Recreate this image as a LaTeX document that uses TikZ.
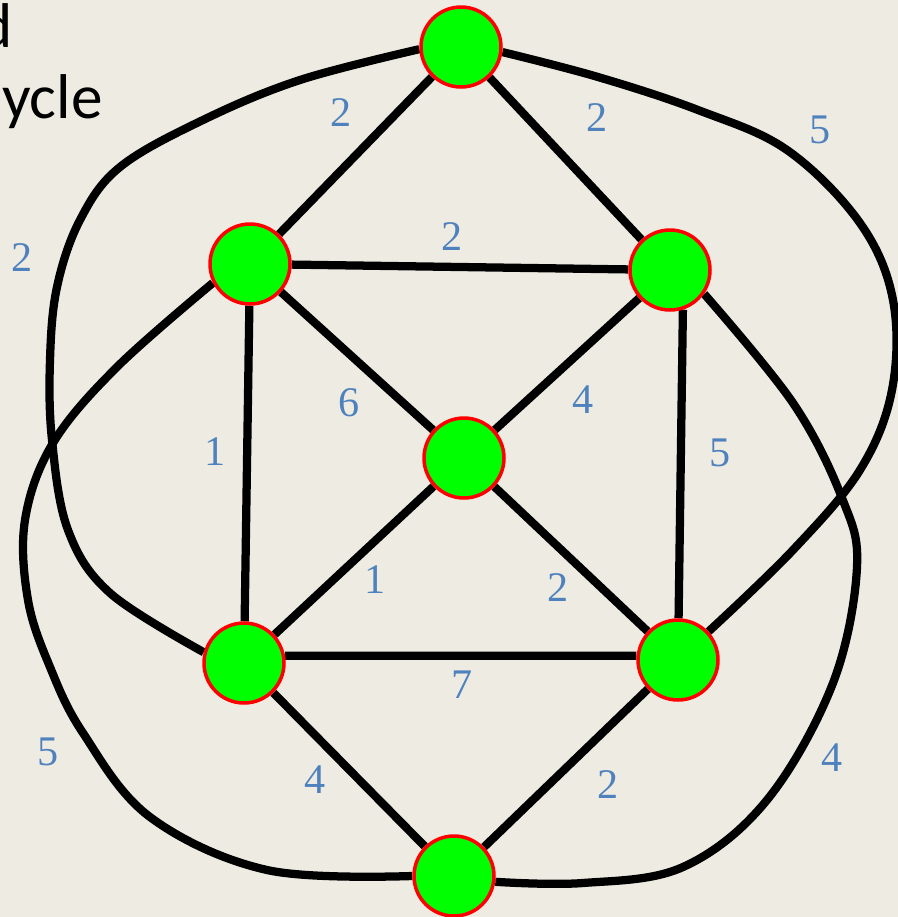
\documentclass[tikz,border=0pt]{standalone}
\usepackage{fontspec}
\setmainfont{Liberation Serif}
\newfontfamily\calibri{Carlito}
\definecolor{bgc}{RGB}{238,236,226}
\definecolor{lab}{RGB}{79,129,189}
\definecolor{vgreen}{RGB}{0,255,0}
\pgfdeclarelayer{background}
\pgfsetlayers{background,main}
\begin{document}
\begin{tikzpicture}[x=0.02cm,y=-0.02cm,
  vtx/.style={circle,fill=vgreen,draw=red,line width=2pt,minimum size=1.6cm,inner sep=0pt},
  edge/.style={line width=4.7pt,black},
  curve/.style={line width=4.7pt,black,smooth,tension=0.6},
  wt/.style={text=lab,font=\fontspec{Liberation Serif}\fontsize{24}{28}\selectfont,inner sep=0pt},
  titletext/.style={font=\calibri\fontsize{36}{42}\selectfont,inner sep=0pt,anchor=base east}]
\useasboundingbox (0,0) rectangle (898,917);

% vertices
\node[vtx] (T)  at (461,47)  {};
\node[vtx] (UL) at (250,264) {};
\node[vtx] (UR) at (670,270) {};
\node[vtx] (C)  at (464,458) {};
\node[vtx] (LL) at (244,663) {};
\node[vtx] (LR) at (678,660) {};
\node[vtx] (B)  at (454,876) {};

\begin{pgfonlayer}{background}
\fill[bgc] (0,0) rectangle (898,917);
% straight edges
\draw[edge] (T) -- (UL);
\draw[edge] (T) -- (UR);
\draw[edge] (UL) -- (UR);
\draw[edge] (UL) -- (C);
\draw[edge] (UR) -- (C);
\draw[edge] (UL) -- (LL);
\draw[edge] (UR.-72) -- (LR);
\draw[edge] (C) -- (LL);
\draw[edge] (C) -- (LR);
\draw[edge] (LL.10) -- (LR.174);
\draw[edge] (LL) -- (B);
\draw[edge] (LR) -- (B);
% outer curves
\draw[curve] plot coordinates {(T.183) (300,80) (203,120) (120,167) (80,220) (57,287) (50,360) (52,440) (68,530) (110,593) (LL.165)};
\draw[curve] plot coordinates {(T.-7) (598,77) (698,110) (787,150) (860,223) (893,300) (892,390) (860,470) (793,550) (LR.43)};
\draw[curve] plot coordinates {(UL.207) (117,367) (53,443) (25,520) (28,600) (50,667) (83,733) (150,817) (267,870) (B.180)};
\draw[curve] plot coordinates {(UR.-35) (793,403) (842,498) (857,567) (833,683) (767,800) (683,867) (583,883) (B.-8)};
\end{pgfonlayer}

% weights
\node[wt] (w1)  at (341,113) {2};
\node[wt] (w2)  at (597,118) {2};
\node[wt] (w3)  at (820,130) {5};
\node[wt] (w4)  at (22,258)  {2};
\node[wt] (w5)  at (452,237) {2};
\node[wt] (w6)  at (349,403) {6};
\node[wt] (w7)  at (583,400) {4};
\node[wt] (w8)  at (215,452) {1};
\node[wt] (w9)  at (720,453) {5};
\node[wt] (w10) at (375,580) {1};
\node[wt] (w11) at (558,588) {2};
\node[wt] (w12) at (462,685) {7};
\node[wt] (w13) at (48,752)  {5};
\node[wt] (w14) at (315,780) {4};
\node[wt] (w15) at (608,785) {2};
\node[wt] (w16) at (832,758) {4};

% cut-off title text
\node[titletext] (t1) at (13,47) {d};
\node[titletext] (t2) at (103,118) {ycle};
\end{tikzpicture}
\end{document}
